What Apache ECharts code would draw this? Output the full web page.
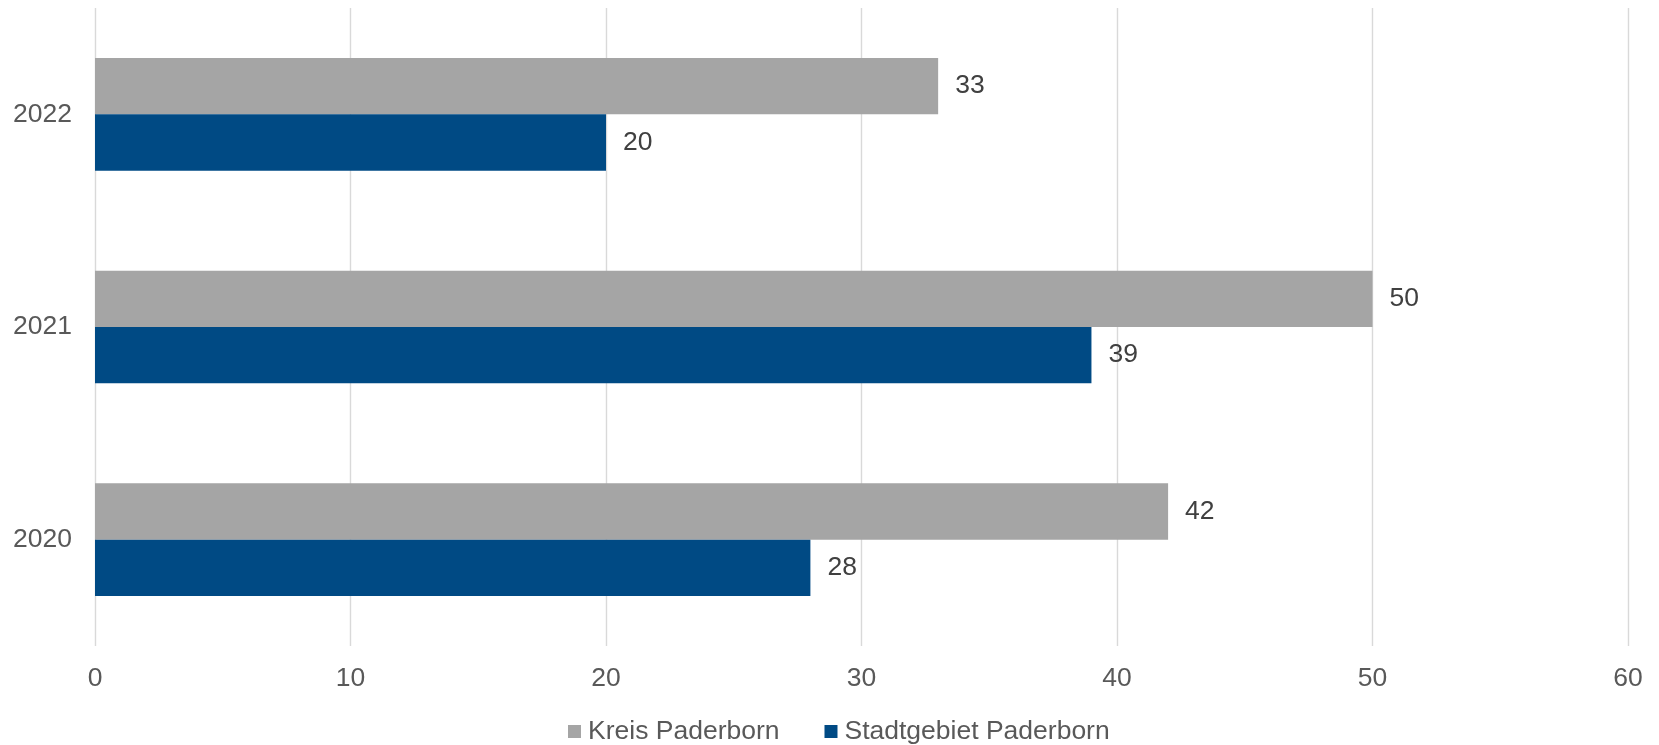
<!DOCTYPE html>
<html>
<head>
<meta charset="utf-8">
<script src="https://cdn.jsdelivr.net/npm/echarts@6/dist/echarts.min.js"></script>
<style>
html,body{margin:0;padding:0;background:#fff;}
#chart{width:1659px;height:745px;}
</style>
</head>
<body>
<div id="chart"></div>
<script>
const categories = ['2020', '2021', '2022'];
const kreisValues = [42, 50, 33];
const stadtValues = [28, 39, 20];
const xTicks = [0, 10, 20, 30, 40, 50, 60];
const seriesNames = ['Kreis Paderborn', 'Stadtgebiet Paderborn'];

const chart = echarts.init(document.getElementById('chart'));
const font = 'Liberation Sans, Arial, sans-serif';
const fs = 26.5;
const labelStyle = {
  show: true, position: 'right', distance: 17,
  fontFamily: font, fontSize: fs, color: '#404040'
};
chart.setOption({
  animation: false,
  backgroundColor: '#ffffff',
  grid: { left: 95, right: 31, top: 8, bottom: 99, containLabel: false },
  legend: {
    data: seriesNames,
    bottom: -5,
    left: 563,
    itemWidth: 13, itemHeight: 13, itemGap: 45,
    icon: 'rect',
    textStyle: { fontFamily: font, fontSize: fs, color: '#595959', padding: [0, 0, 0, 2] }
  },
  xAxis: {
    type: 'value',
    min: xTicks[0], max: xTicks[xTicks.length - 1], interval: 10,
    axisLine: { show: false },
    axisTick: { show: false },
    splitLine: { show: true, lineStyle: { color: '#D9D9D9', width: 1.4 } },
    axisLabel: { fontFamily: font, fontSize: fs, color: '#595959', margin: 19 }
  },
  yAxis: {
    type: 'category',
    data: categories,
    axisLine: { show: false },
    axisTick: { show: false },
    axisLabel: { fontFamily: font, fontSize: fs, color: '#595959', margin: 23 }
  },
  series: [
    {
      name: seriesNames[0], type: 'bar', data: kreisValues,
      itemStyle: { color: '#A5A5A5' },
      barGap: '0%', barCategoryGap: '47%',
      label: labelStyle
    },
    {
      name: seriesNames[1], type: 'bar', data: stadtValues,
      itemStyle: { color: '#004A84' },
      barGap: '0%', barCategoryGap: '47%',
      label: labelStyle
    }
  ]
});
</script>
</body>
</html>
